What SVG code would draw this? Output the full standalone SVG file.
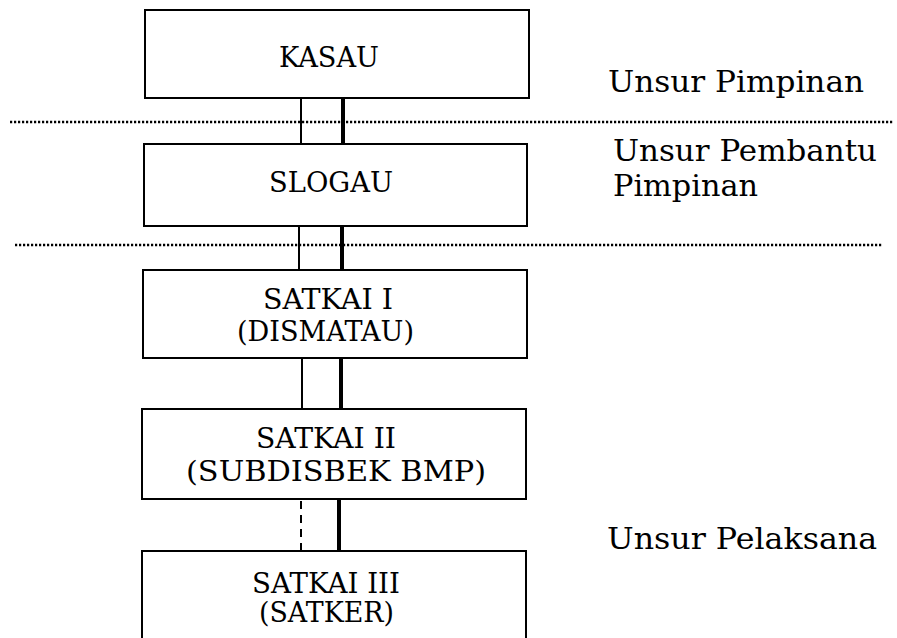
<svg xmlns="http://www.w3.org/2000/svg" width="897" height="638" viewBox="0 0 897 638">
<style>
.box{fill:#fff;stroke:#000;stroke-width:2}
.bt{font-family:"DejaVu Serif","Liberation Serif",serif;font-size:27px;fill:#000}
.lt{font-family:"DejaVu Serif","Liberation Serif",serif;font-size:29px;fill:#000}
.thin{stroke:#000;stroke-width:2;fill:none}
.thick{stroke:#000;stroke-width:4;fill:none}
.dash{stroke:#000;stroke-width:2;fill:none;stroke-dasharray:8,6}
.dot{stroke:#000;stroke-width:2.5;fill:none;stroke-dasharray:2.2,1.8}
</style>
<rect width="897" height="638" fill="#fff"/>
<g id="separators">
<line class="dot" x1="10" y1="122" x2="893" y2="122"/>
<line class="dot" x1="15" y1="245" x2="882" y2="245"/>
</g>
<g id="connectors">
<line class="thin" x1="301" y1="98" x2="301" y2="144"/>
<line class="thick" x1="343" y1="98" x2="343" y2="144"/>
<line class="thin" x1="299" y1="226" x2="299" y2="270"/>
<line class="thick" x1="342" y1="226" x2="342" y2="270"/>
<line class="thin" x1="302" y1="358" x2="302" y2="409"/>
<line class="thick" x1="341" y1="358" x2="341" y2="409"/>
<line class="dash" x1="301" y1="501" x2="301" y2="551"/>
<line class="thick" x1="339" y1="499" x2="339" y2="551"/>
</g>
<g id="kasau">
<rect class="box" x="145" y="10" width="384" height="88"/>
<text class="bt" x="279" y="67" textLength="100" lengthAdjust="spacingAndGlyphs">KASAU</text>
</g>
<g id="slogau">
<rect class="box" x="144" y="144" width="383" height="82"/>
<text class="bt" x="269" y="192" textLength="124" lengthAdjust="spacingAndGlyphs">SLOGAU</text>
</g>
<g id="satkai1">
<rect class="box" x="143" y="270" width="384" height="88"/>
<text class="bt" x="263" y="309" textLength="130" lengthAdjust="spacingAndGlyphs">SATKAI I</text>
<text class="bt" x="237" y="341" textLength="177" lengthAdjust="spacingAndGlyphs">(DISMATAU)</text>
</g>
<g id="satkai2">
<rect class="box" x="142" y="409" width="384" height="90"/>
<text class="bt" x="256" y="448" textLength="140" lengthAdjust="spacingAndGlyphs">SATKAI II</text>
<text class="bt" x="186" y="481" textLength="300" lengthAdjust="spacingAndGlyphs">(SUBDISBEK BMP)</text>
</g>
<g id="satkai3">
<rect class="box" x="142" y="551" width="384" height="100"/>
<text class="bt" x="252" y="593" textLength="148" lengthAdjust="spacingAndGlyphs">SATKAI III</text>
<text class="bt" x="259" y="622" textLength="135" lengthAdjust="spacingAndGlyphs">(SATKER)</text>
</g>
<g id="labels">
<text class="lt" x="608" y="92" textLength="256" lengthAdjust="spacingAndGlyphs">Unsur Pimpinan</text>
<text class="lt" x="613" y="161" textLength="264" lengthAdjust="spacingAndGlyphs">Unsur Pembantu</text>
<text class="lt" x="613" y="196" textLength="145" lengthAdjust="spacingAndGlyphs">Pimpinan</text>
<text class="lt" x="607" y="549" textLength="270" lengthAdjust="spacingAndGlyphs">Unsur Pelaksana</text>
</g>
</svg>
